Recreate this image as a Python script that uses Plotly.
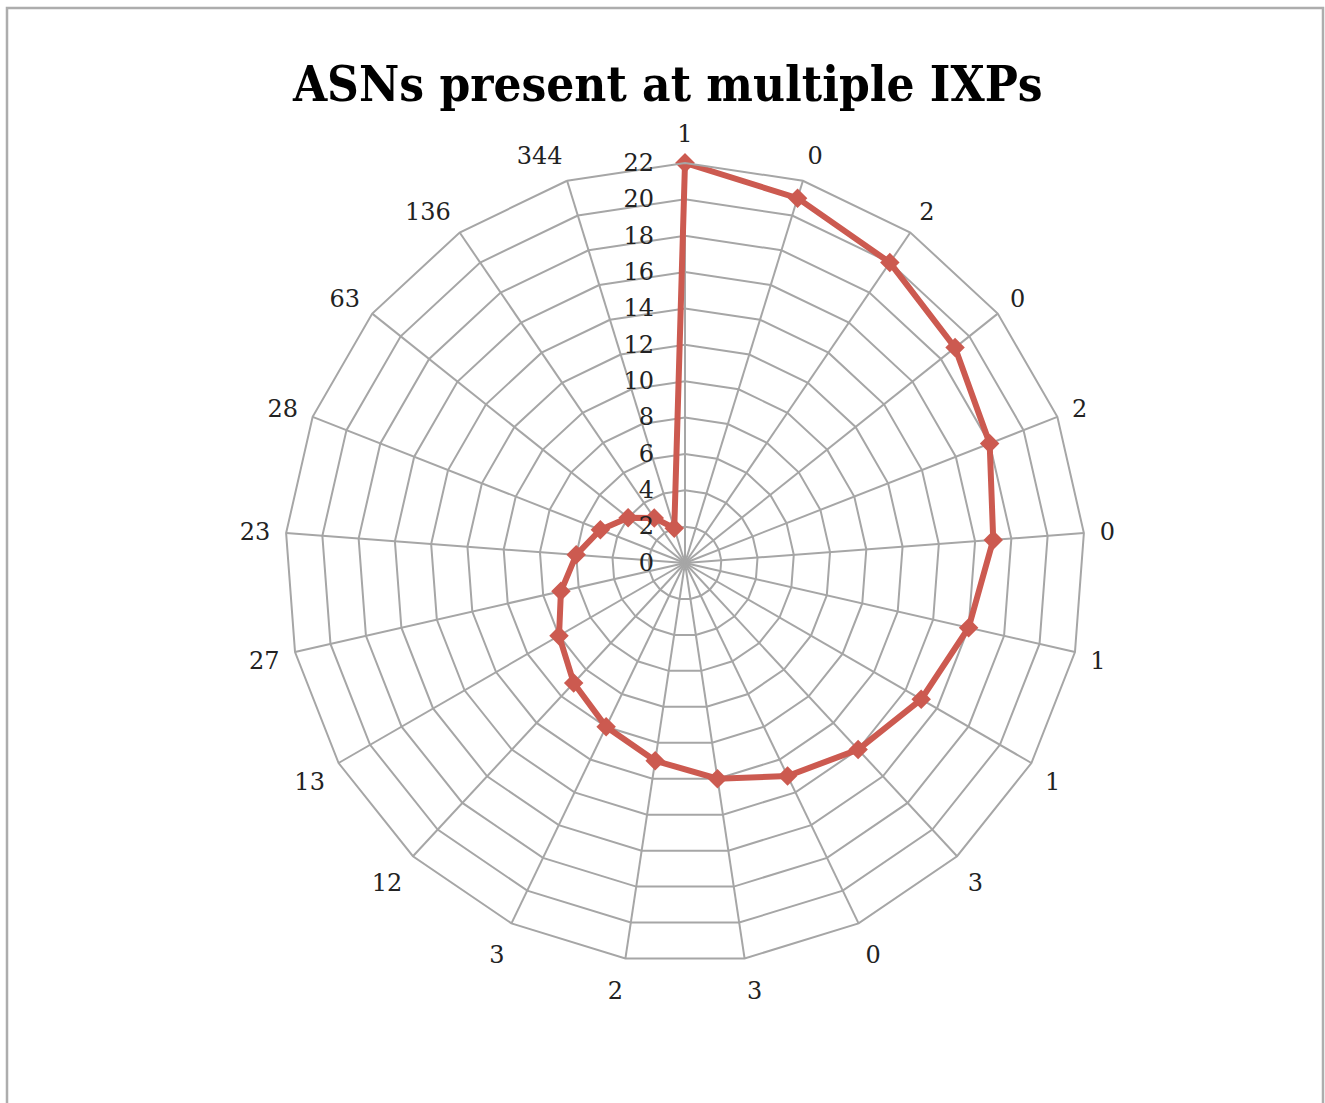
import plotly.graph_objects as go

categories = ["1", "0", "2", "0", "2", "0", "1", "1", "3", "0", "3",
              "2", "3", "12", "13", "27", "23", "28", "63", "136", "344"]
values = [22, 21, 20, 19, 18, 17, 16, 15, 14, 13, 12,
          11, 10, 9, 8, 7, 6, 5, 4, 3, 2]
radial_ticks = list(range(0, 23, 2))

n = len(categories)
ids = ["c%d" % i for i in range(n)]

fig = go.Figure()
fig.add_trace(go.Scatterpolar(
    r=values + [values[0]],
    theta=ids + [ids[0]],
    mode="lines+markers",
    line=dict(color="#CC5A50", width=6),
    marker=dict(symbol="diamond", size=15, color="#CC5A50"),
    showlegend=False,
))

cx, cy, R = 685, 563, 400
W, H = 1325, 1103
fig.update_layout(
    width=W, height=H,
    margin=dict(l=0, r=0, t=0, b=0),
    paper_bgcolor="white",
    plot_bgcolor="white",
    title=dict(text="<b>ASNs present at multiple IXPs</b>", x=0.504, xanchor="center",
               y=1 - 84 / H, yanchor="middle",
               font=dict(family="DejaVu Serif Condensed, DejaVu Serif", size=49, color="black")),
    polar=dict(
        domain=dict(x=[(cx - R) / W, (cx + R) / W], y=[(H - cy - R) / H, (H - cy + R) / H]),
        gridshape="linear",
        bgcolor="white",
        angularaxis=dict(
            type="category", categoryorder="array", categoryarray=ids,
            rotation=90, direction="clockwise",
            tickmode="array", tickvals=ids, ticktext=categories,
            showline=True, linecolor="#A6A6A6", linewidth=2,
            showgrid=True, gridcolor="#A6A6A6", gridwidth=2,
            ticks="outside", ticklen=10, tickcolor="rgba(0,0,0,0)",
            tickfont=dict(family="DejaVu Serif", size=24, color="#222"),
        ),
        radialaxis=dict(
            range=[0, 22], tickmode="array", tickvals=radial_ticks,
            angle=90, tickangle=90, side="counterclockwise",
            showline=False, showgrid=True, gridcolor="#A6A6A6", gridwidth=2,
            ticks="outside", ticklen=22, tickcolor="rgba(0,0,0,0)",
            tickfont=dict(family="DejaVu Serif", size=24, color="#222"),
        ),
    ),
    shapes=[dict(type="rect", xref="paper", yref="paper",
                 x0=7 / W, x1=1323 / W, y0=-0.01, y1=1 - 8 / H,
                 line=dict(color="#ADADAD", width=2.5), fillcolor="rgba(0,0,0,0)")],
)

fig.write_html("out.html")
